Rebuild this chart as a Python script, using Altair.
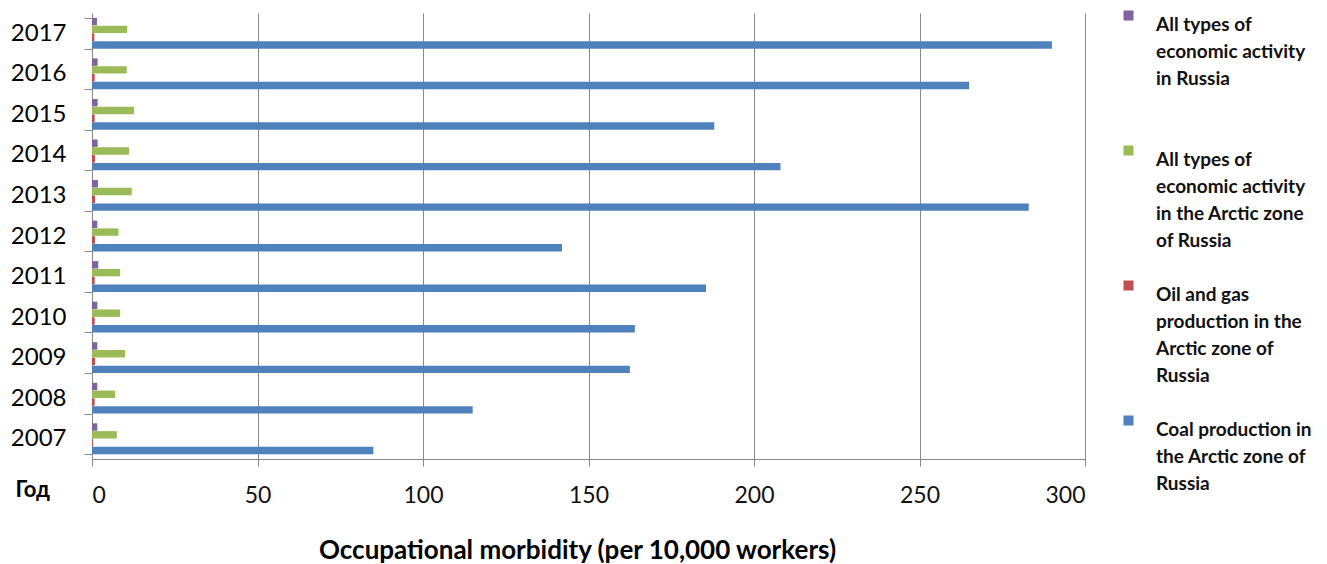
import json
import altair as alt
import pandas as pd

years = [2007, 2008, 2009, 2010, 2011, 2012, 2013, 2014, 2015, 2016, 2017]
series_names = [
    "All types of economic activity in Russia",
    "All types of economic activity in the Arctic zone of Russia",
    "Oil and gas production in the Arctic zone of Russia",
    "Coal production in the Arctic zone of Russia",
]
legend_lines = [
    ["All types of", "economic activity", "in Russia", ""],
    ["All types of", "economic activity", "in the Arctic zone", "of Russia"],
    ["Oil and gas", "production in the", "Arctic zone of", "Russia"],
    ["Coal production in", "the Arctic zone of", "Russia", ""],
]
colors = ["#8064A2", "#9BBB59", "#C0504D", "#4F81BD"]

russia_all = [1.6, 1.6, 1.6, 1.6, 1.9, 1.6, 1.8, 1.7, 1.7, 1.7, 1.5]
arctic_all = [7.5, 7.0, 10.0, 8.5, 8.5, 8.0, 12.0, 11.2, 12.7, 10.5, 10.6]
oil_gas = [0.3, 0.8, 0.9, 0.8, 0.8, 0.9, 0.9, 0.9, 0.8, 0.8, 0.7]
coal = [85, 115, 162.5, 164, 185.5, 142, 283, 208, 188, 265, 290]

x_ticks = [0, 50, 100, 150, 200, 250, 300]

rows = []
for name, vals in zip(series_names, [russia_all, arctic_all, oil_gas, coal]):
    for y, v in zip(years, vals):
        rows.append({"year": str(y), "series": name, "value": v})
df = pd.DataFrame(rows)

label_expr = ""
for name, lines in zip(series_names, legend_lines):
    label_expr += f"datum.label == {json.dumps(name)} ? {json.dumps(lines)} : "
label_expr += "datum.label"

W, H = 993, 446
FONT = "Lato"

chart = alt.Chart(df).mark_bar().encode(
    x=alt.X(
        "value:Q",
        scale=alt.Scale(domain=[0, 300], nice=False),
        axis=alt.Axis(
            values=x_ticks,
            title="Occupational morbidity (per 10,000 workers)",
            titleFont=FONT, titleFontSize=26, titleFontWeight="bold",
            titleColor="#000", titlePadding=30, titleX=485,
            labelFont=FONT, labelFontSize=23, labelColor="#111",
            labelPadding=18, tickSize=7, tickColor="#888",
            domainColor="#888", gridColor="#888", gridWidth=1, grid=True,
        ),
    ),
    y=alt.Y(
        "year:O",
        sort="descending",
        scale=alt.Scale(paddingInner=0.24, paddingOuter=0.12),
        axis=alt.Axis(
            title="Год", titleAngle=0, titleFont=FONT, titleFontSize=22,
            titleFontWeight="bold", titleColor="#000",
            titleX=-77, titleY=H + 30, titleAlign="left", titleBaseline="middle",
            labelFont=FONT, labelFontSize=24, labelColor="#000",
            labelPadding=18, tickSize=8, tickBand="extent", tickColor="#888",
            domainColor="#888", grid=False,
        ),
    ),
    yOffset=alt.YOffset("series:N", sort=series_names,
                        scale=alt.Scale(paddingInner=0.05)),
    color=alt.Color(
        "series:N",
        sort=series_names,
        scale=alt.Scale(domain=series_names, range=colors),
        legend=alt.Legend(
            title=None, orient="none", legendX=1027, legendY=-7,
            symbolType="square", symbolSize=100, symbolStrokeWidth=0,
            labelFont=FONT, labelFontSize=19, labelFontWeight="bold",
            labelColor="#111", labelBaseline="top", labelOffset=18,
            labelLimit=400, rowPadding=25, labelExpr=label_expr,
        ),
    ),
).properties(
    width=W, height=H,
    autosize=alt.AutoSizeParams(type="none"),
    padding={"left": 92, "top": 13, "right": 242, "bottom": 105},
).configure(
    background="white",
    style={"guide-label": {"lineHeight": 27}},
).configure_view(stroke=None)

chart.save("out.html", embed_options={"renderer": "svg", "actions": False})
